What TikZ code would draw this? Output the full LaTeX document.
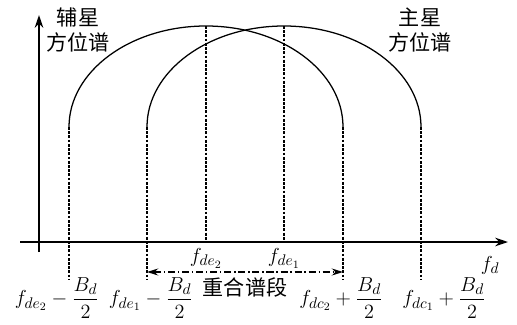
\documentclass[tikz,border=0pt]{standalone}
\usepackage{amsmath}
\usepackage{fontspec}
\newfontfamily\cjk{Noto Sans CJK SC}
\usetikzlibrary{arrows.meta}

\begin{document}
\begin{tikzpicture}[
    x=0.025cm, y=0.025cm,
    every node/.style={font=\fontsize{15}{18}\selectfont, inner sep=0pt},
    mathlabel/.style={font=\fontsize{15.5}{18}\selectfont},
    axisline/.style={line width=1.4pt, -{Stealth[length=9pt, width=6pt]}},
    specline/.style={line width=0.9pt},
    guideline/.style={line width=0.9pt, dash pattern=on 2pt off 1pt},
    overlap/.style={line width=0.9pt, dash pattern=on 5pt off 2pt on 1pt off 2pt,
      {Stealth[length=8pt, width=5pt]}-{Stealth[length=8pt, width=5pt]}},
  ]
    \useasboundingbox (0,0) rectangle (517,324);
    \def\Rx{137}                      % 方位谱半宽
    \def\Ry{101}                      % 弧高
    \def\Yb{197}                      % 弧底
    \def\Yf{44}                       % 虚线下端

    % 坐标轴
    \coordinate (O) at (39,82);
    \coordinate (xs) at (20,82);
    \coordinate (xe) at (508,82);
    \coordinate (ys) at (39,72);
    \coordinate (ye) at (39,309);
    \draw[axisline] (xs) -- (xe);
    \draw[axisline] (ys) -- (ye);

    % 弧端点与峰值
    \coordinate (a1) at (69,\Yb);
    \coordinate (a2) at (343,\Yb);
    \coordinate (b1) at (147,\Yb);
    \coordinate (b2) at (421,\Yb);
    \coordinate (pa) at (206,298);
    \coordinate (pb) at (284,298);

    % 两个方位谱
    \draw[specline] (a1) arc[start angle=180, end angle=0, x radius=\Rx, y radius=\Ry];
    \draw[specline] (b1) arc[start angle=180, end angle=0, x radius=\Rx, y radius=\Ry];

    % 竖直虚线
    \foreach \p in {a1, b1, a2, b2} {
      \draw[guideline] (\p) -- (\p |- 0,\Yf);
    }
    \draw[guideline] (pa) -- (pa |- O);
    \draw[guideline] (pb) -- (pb |- O);

    % 重合谱段
    \coordinate (ol) at (147,52);
    \coordinate (or) at (343,52);
    \draw[overlap] (ol) -- (or);
    \node (ovl) at (245,37) {\cjk 重合谱段};

    % 轴上标注
    \node[mathlabel] (fde2) at (206,66) {$f_{de_{2}}$};
    \node[mathlabel] (fde1) at (284,66) {$f_{de_{1}}$};
    \node[mathlabel] (fd) at (490,59) {$f_d$};

    % 底部表达式
    \node[mathlabel] (lo2) at (57,26)  {$f_{de_{2}}-\dfrac{B_d}{2}$};
    \node[mathlabel] (lo1) at (151,26) {$f_{de_{1}}-\dfrac{B_d}{2}$};
    \node[mathlabel] (hi2) at (341,26) {$f_{dc_{2}}+\dfrac{B_d}{2}$};
    \node[mathlabel] (hi1) at (444,26) {$f_{dc_{1}}+\dfrac{B_d}{2}$};

    % 谱名
    \node[align=center] (aux) at (78,294) {\cjk 辅星\\\cjk 方位谱};
    \node[align=center] (main) at (420,294) {\cjk 主星\\\cjk 方位谱};
  \end{tikzpicture}
\end{document}
